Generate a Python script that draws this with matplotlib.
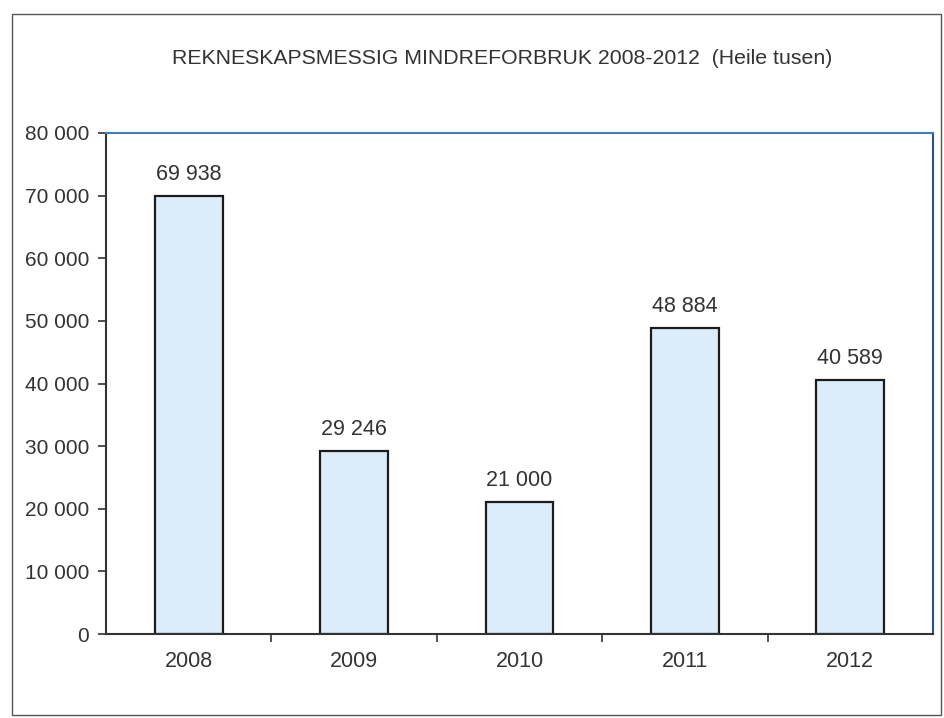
import matplotlib
matplotlib.use("Agg")
import matplotlib.pyplot as plt
from matplotlib.patches import Rectangle

years = ["2008", "2009", "2010", "2011", "2012"]
values = [69938, 29246, 21000, 48884, 40589]
value_labels = ["69 938", "29 246", "21 000", "48 884", "40 589"]
yticks = [0, 10000, 20000, 30000, 40000, 50000, 60000, 70000, 80000]
ytick_labels = ["0", "10 000", "20 000", "30 000", "40 000", "50 000", "60 000", "70 000", "80 000"]
title = "REKNESKAPSMESSIG MINDREFORBRUK 2008-2012  (Heile tusen)"

plt.rcParams['font.family'] = ['Liberation Sans', 'DejaVu Sans']
W, H = 945, 718
fig = plt.figure(figsize=(W / 100, H / 100), dpi=100)
fig.patch.set_facecolor("white")

# outer frame
fig.patches.append(Rectangle((12 / W, 1 - 715 / H), (941 - 12) / W, (715 - 14) / H,
                             transform=fig.transFigure, fill=False,
                             edgecolor="#555555", linewidth=1.0))

ax = fig.add_axes([106 / W, 1 - 634 / H, (933 - 106) / W, (634 - 133) / H])
x = list(range(len(years)))
ax.bar(x, values, width=0.41, color="#dcecf8", edgecolor="#1c1c1c", linewidth=1.6, zorder=2)
ax.set_xlim(-0.5, len(years) - 0.5)
ax.set_ylim(0, 80000)

for xi, v, lab in zip(x, values, value_labels):
    ax.annotate(lab, (xi, v), xytext=(0, 8), textcoords="offset points",
                ha="center", va="bottom", fontsize=15.5, color="#333333")

ax.set_yticks(yticks)
ax.set_yticklabels(ytick_labels, fontsize=15, color="#333333")
ax.set_xticks(x)
ax.set_xticklabels(years, fontsize=15.5, color="#333333")
ax.tick_params(axis="x", length=0, pad=12)
ax.tick_params(axis="y", length=6, width=1.2, color="#333333", pad=6)
ax.set_xticks([i + 0.5 for i in x[:-1]], minor=True)
ax.tick_params(axis="x", which="minor", length=6, width=1.2, color="#333333")

ax.spines["left"].set_color("#333333")
ax.spines["left"].set_linewidth(1.5)
ax.spines["bottom"].set_color("#333333")
ax.spines["bottom"].set_linewidth(1.5)
ax.spines["top"].set_color("#3a7fc4")
ax.spines["top"].set_linewidth(1.5)
ax.spines["right"].set_color("#2c4f86")
ax.spines["right"].set_linewidth(1.5)

fig.text(502 / W, 1 - 58 / H, title, ha="center", va="center",
         fontsize=15.3, color="#333333")

fig.savefig("out.png", dpi=100)
